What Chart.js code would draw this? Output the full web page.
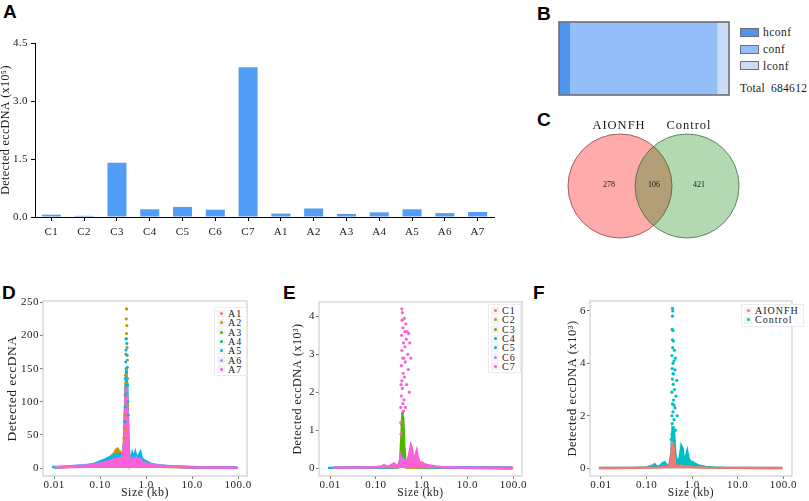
<!DOCTYPE html>
<html>
<head>
<meta charset="utf-8">
<script src="https://cdn.jsdelivr.net/npm/chart.js@4.4.1/dist/chart.umd.min.js"></script>
<style>
  body { margin: 0; width: 809px; height: 501px; position: relative; overflow: hidden; background: #fff;
         font-family: 'Liberation Serif', 'Times New Roman', serif; color: #1a1a1a; }
  .box { position: absolute; }
  .tag { position: absolute; font: bold 19px 'Liberation Sans', Arial, sans-serif; line-height: 1; color: #000; }
  .legB { position: absolute; left: 740px; top: 24px; font-size: 11.5px; letter-spacing: 0.5px; }
  .legB .r { height: 16.7px; display: flex; align-items: center; }
  .legB .sw { width: 19px; height: 9px; border: 1px solid #707070; box-sizing: border-box; margin-right: 4px; }
  .total { position: absolute; left: 740px; top: 82px; font-size: 11.5px; letter-spacing: 0.3px; white-space: nowrap; }
  .total span { margin-left: 6px; }
  .vl { position: absolute; transform: translate(-50%, -50%); white-space: nowrap; }
  .leg { position: absolute; font-size: 10px; letter-spacing: 1px; border: 1px solid #ececec; padding: 1px 4px 1px 2px; background: #fff; }
  .leg .lr { height: 9.3px; display: flex; align-items: center; }
  .leg .key { width: 8px; height: 8px; background: #f3f3f3; position: relative; margin-right: 3px; }
  .leg .key i { position: absolute; left: 2.5px; top: 2.5px; width: 3px; height: 3px; border-radius: 50%; }
</style>
</head>
<body>
<div class="tag" style="left:3px;top:2px">A</div>
<div class="tag" style="left:537px;top:4px">B</div>
<div class="tag" style="left:537px;top:110px">C</div>
<div class="tag" style="left:2px;top:283px">D</div>
<div class="tag" style="left:283px;top:283px">E</div>
<div class="tag" style="left:533px;top:283px">F</div>

<div class="box" style="left:-2px;top:0;width:507px;height:260px"><canvas id="cA"></canvas></div>
<div class="box" style="left:558px;top:21px;width:172px;height:75px"><canvas id="cB"></canvas></div>
<div class="legB" id="legB"></div>
<div class="total" id="totalB"></div>
<div class="box" style="left:560px;top:130px;width:190px;height:112px"><canvas id="cC"></canvas></div>
<div id="vennText"></div>
<div class="box" style="left:0;top:290px;width:260px;height:211px"><canvas id="cD"></canvas></div>
<div class="box" style="left:270px;top:290px;width:265px;height:211px"><canvas id="cE"></canvas></div>
<div class="box" style="left:540px;top:290px;width:269px;height:211px"><canvas id="cF"></canvas></div>
<div class="leg" id="legD" style="left:214px;top:307px"></div>
<div class="leg" id="legE" style="left:488px;top:304px"></div>
<div class="leg" id="legF" style="left:741px;top:304px"></div>

<script>
// ---- A: detected eccDNA per sample (x10^5)
const samples = ['C1', 'C2', 'C3', 'C4', 'C5', 'C6', 'C7', 'A1', 'A2', 'A3', 'A4', 'A5', 'A6', 'A7'];
const detected = [0.06, 0.03, 1.40, 0.20, 0.26, 0.19, 3.87, 0.09, 0.22, 0.08, 0.12, 0.20, 0.10, 0.13];
const ticksA = [0, 1.5, 3.0, 4.5];

// ---- B: confidence levels
const confLevels = ['hconf', 'conf', 'lconf'];
const confCounts = [43000, 593500, 48112];

// ---- C: venn
const vennNames = ['AIONFH', 'Control'];
const vennOnly = [278, 421];
const vennShared = 106;

// ---- D/E/F: size distributions, [size kb, count]
const sizeTicks = [0.01, 0.1, 1, 10, 100];
const sizeTickLabels = ['0.01', '0.10', '1.0', '10.0', '100.0'];
const ticksD = [0, 50, 100, 150, 200, 250];
const ticksE = [0, 1, 2, 3, 4];
const ticksF = [0, 2, 4, 6];

const namesD = ['A1', 'A2', 'A3', 'A4', 'A5', 'A6', 'A7'];
const curveA1 = [[0.01,1],[0.05,2],[0.1,5],[0.2,9],[0.3,12],[0.36,45],[0.4,30],[0.45,6],[0.6,9],[0.8,8],[1,5],[2,2],[10,1],[95,0.5]];
const curveA2 = [[0.012,1],[0.05,3],[0.1,8],[0.15,14],[0.2,22],[0.22,26],[0.25,27],[0.27,24],[0.3,16],[0.33,40],[0.36,130],[0.38,120],[0.41,40],[0.44,8],[0.5,14],[0.6,14],[0.8,12],[1,7],[2,3],[10,1],[95,0.5]];
const curveA3 = [[0.01,1],[0.1,4],[0.2,7],[0.3,10],[0.36,38],[0.38,40],[0.42,10],[0.6,8],[1,4],[2,2],[10,1],[95,0.5]];
const curveA4 = [[0.01,1],[0.1,4],[0.2,8],[0.3,9],[0.36,30],[0.38,28],[0.42,7],[0.6,7],[1,4],[2,3],[10,1],[95,0.5]];
const curveA5 = [[0.009,1.5],[0.02,2],[0.03,3],[0.05,4],[0.08,7],[0.1,10],[0.13,13],[0.16,16],[0.2,19],[0.25,22],[0.28,20],[0.31,16],[0.33,30],[0.35,80],[0.37,150],[0.39,120],[0.41,50],[0.43,15],[0.46,10],[0.5,22],[0.53,16],[0.58,24],[0.62,15],[0.68,18],[0.75,24],[0.8,15],[0.9,12],[1,10],[1.3,6],[2,4],[4,2.5],[10,1.5],[30,1],[95,1]];
const curveA6 = [[0.01,1],[0.1,6],[0.2,12],[0.3,14],[0.36,60],[0.38,55],[0.42,12],[0.6,12],[1,6],[2,3],[10,1],[95,0.5]];
const curveA7 = [[0.012,1],[0.02,1.5],[0.03,2],[0.05,3],[0.08,5],[0.1,7],[0.13,9],[0.17,11],[0.2,13],[0.25,15],[0.28,14],[0.3,10],[0.33,30],[0.345,75],[0.36,118],[0.38,120],[0.4,80],[0.42,25],[0.44,4],[0.47,8],[0.5,15],[0.55,12],[0.6,16],[0.66,12],[0.72,14],[0.8,10],[0.9,8],[1,7],[1.3,5],[1.7,4],[2.5,3],[4,2],[7,1.5],[10,1],[20,0.8],[50,0.5],[95,0.5]];
const peakA1 = [[0.37,60],[0.38,55]];
const peakA2 = [[0.375,240],[0.37,225],[0.38,215],[0.375,203],[0.365,195],[0.385,182],[0.36,172],[0.39,163],[0.37,150],[0.355,140],[0.395,135],[0.38,128],[0.35,110],[0.4,95],[0.345,80],[0.34,60],[0.33,45],[0.24,29],[0.22,27],[0.26,25]];
const peakA5 = [[0.37,195],[0.38,188],[0.365,178],[0.385,170],[0.36,160],[0.39,152],[0.375,145],[0.355,135],[0.395,125],[0.365,112],[0.4,100],[0.35,92],[0.41,80],[0.345,70]];

const namesE = ['C1', 'C2', 'C3', 'C4', 'C5', 'C6', 'C7'];
const curveC1 = [[0.012,0.005],[0.3,0.01],[0.37,0.04],[0.4,0.03],[0.5,0.01],[95,0.003]];
const curveC2 = [[0.012,0.005],[0.3,0.01],[0.37,0.06],[0.4,0.05],[0.5,0.01],[95,0.003]];
const curveC3 = [[0.012,0.005],[0.1,0.01],[0.3,0.03],[0.34,0.2],[0.36,0.8],[0.38,1.45],[0.4,1.2],[0.42,0.5],[0.45,0.1],[0.55,0.15],[0.6,0.2],[0.66,0.08],[0.75,0.15],[0.8,0.2],[0.9,0.06],[1,0.05],[2,0.02],[10,0.005],[95,0.003]];
const curveC4 = [[0.012,0.005],[0.3,0.02],[0.37,0.15],[0.4,0.12],[0.45,0.03],[0.6,0.04],[1,0.02],[95,0.003]];
const curveC5 = [[0.009,0.005],[0.3,0.03],[0.35,0.15],[0.37,0.3],[0.4,0.25],[0.43,0.06],[0.6,0.06],[0.8,0.05],[1,0.03],[95,0.003]];
const curveC6 = [[0.012,0.005],[0.3,0.03],[0.36,0.12],[0.38,0.25],[0.4,0.2],[0.43,0.05],[0.6,0.05],[1,0.03],[95,0.003]];
const curveC7 = [[0.012,0.01],[0.05,0.01],[0.1,0.02],[0.14,0.05],[0.15,0.08],[0.17,0.04],[0.2,0.05],[0.23,0.1],[0.25,0.12],[0.28,0.06],[0.32,0.1],[0.35,0.3],[0.37,0.1],[0.43,0.2],[0.47,0.15],[0.52,0.3],[0.58,0.6],[0.62,0.5],[0.67,0.15],[0.72,0.3],[0.78,0.45],[0.82,0.3],[0.9,0.15],[1,0.15],[1.1,0.12],[1.3,0.08],[1.6,0.06],[2,0.04],[3,0.02],[5,0.01],[10,0.005],[100,0.003]];
const peakC3 = [[0.38,1.45],[0.39,1.3],[0.37,1.15],[0.4,1.0],[0.37,0.9],[0.39,0.75],[0.36,0.65],[0.41,0.5]];
const peakC7 = [[0.37,4.2],[0.38,4.1],[0.375,3.9],[0.39,3.7],[0.365,3.5],[0.4,3.3],[0.37,3.1],[0.385,2.9],[0.36,2.7],[0.395,2.5],[0.37,2.3],[0.38,2.1],[0.36,1.9],[0.39,1.7],[0.42,3.95],[0.45,3.8],[0.48,3.6],[0.52,3.55],[0.46,3.4],[0.55,3.3],[0.43,3.2],[0.5,3.0],[0.58,2.9],[0.44,2.8],[0.51,2.6],[0.42,2.4],[0.47,2.2],[0.54,2.0],[0.41,1.8],[0.44,1.6],[0.355,2.2],[0.35,1.6],[0.35,1.2],[0.355,0.9],[0.4,1.5],[0.41,2.9],[0.43,3.6]];

const namesF = ['AIONFH', 'Control'];
const curveAIONFH = [[0.009,0.005],[0.05,0.01],[0.1,0.02],[0.2,0.03],[0.3,0.06],[0.33,0.15],[0.35,0.45],[0.365,0.95],[0.38,0.9],[0.4,0.55],[0.42,0.2],[0.45,0.06],[0.5,0.08],[0.6,0.1],[0.7,0.05],[0.8,0.07],[1,0.04],[2,0.02],[10,0.01],[95,0.005]];
const curveControl = [[0.009,0.005],[0.05,0.01],[0.1,0.03],[0.14,0.1],[0.15,0.15],[0.17,0.05],[0.2,0.1],[0.23,0.2],[0.25,0.22],[0.28,0.1],[0.32,0.15],[0.35,0.6],[0.37,1.5],[0.4,1.4],[0.43,0.5],[0.48,0.2],[0.53,0.4],[0.58,0.85],[0.62,0.75],[0.67,0.2],[0.72,0.4],[0.78,0.65],[0.83,0.4],[0.9,0.25],[1,0.25],[1.1,0.2],[1.3,0.12],[1.6,0.08],[2,0.05],[3,0.03],[5,0.015],[10,0.01],[50,0.005],[95,0.005]];
const peakAIONFH = [[0.37,0.95],[0.375,0.85],[0.36,0.75],[0.38,0.7],[0.39,0.6]];
const peakControl = [[0.37,6.1],[0.375,6.0],[0.37,5.8],[0.365,5.3],[0.38,5.25],[0.37,4.9],[0.39,4.85],[0.375,4.6],[0.41,4.5],[0.36,4.3],[0.43,4.2],[0.38,4.0],[0.365,3.8],[0.42,3.75],[0.39,3.6],[0.37,3.4],[0.46,3.35],[0.385,3.2],[0.41,3.0],[0.36,2.9],[0.44,2.75],[0.39,2.6],[0.37,2.45],[0.42,2.3],[0.38,2.15],[0.36,2.0],[0.47,2.0],[0.4,1.85],[0.365,1.7],[0.39,1.55],[0.43,1.45],[0.36,1.3],[0.35,1.1],[0.4,2.4],[0.38,3.6],[0.4,4.1]];

// ---- styles
const hue7 = ['#F8766D', '#C49A00', '#53B400', '#00C094', '#00B6EB', '#A58AFF', '#FB61D7'];
const hue2 = ['#F8766D', '#00BFC4'];
const confColors = ['#4D95F0', '#93BEF7', '#C9DDF8'];
const serif = "'Liberation Serif', 'Times New Roman', serif";

Chart.defaults.font.family = serif;
Chart.defaults.color = '#1a1a1a';
Chart.defaults.animation = false;
Chart.defaults.events = [];
Chart.defaults.maintainAspectRatio = false;
Chart.defaults.plugins.legend.display = false;
Chart.defaults.plugins.tooltip.enabled = false;

// panel frame + letter spacing
const frame = {
  id: 'frame',
  beforeDraw(chart, args, opts) {
    chart.ctx.letterSpacing = opts.ls || '0px';
  },
  afterDraw(chart, args, opts) {
    if (!opts.color) return;
    const {ctx, chartArea: a} = chart;
    ctx.save();
    ctx.strokeStyle = opts.color;
    ctx.lineWidth = opts.width || 1;
    ctx.strokeRect(a.left, a.top, a.right - a.left, a.bottom - a.top);
    ctx.restore();
  }
};

const xy = arr => arr.map(p => ({x: p[0], y: p[1]}));

// ---------- A
new Chart(document.getElementById('cA'), {
  type: 'bar',
  data: {
    labels: samples,
    datasets: [{data: detected, backgroundColor: '#529DF6', barPercentage: 0.58, categoryPercentage: 1}]
  },
  plugins: [frame],
  options: {
    layout: {padding: {top: 43, right: 11}},
    plugins: {frame: {ls: '0.4px'}},
    scales: {
      x: {
        grid: {drawOnChartArea: false, offset: false, tickLength: 4, color: '#000'},
        border: {color: '#000'},
        ticks: {font: {size: 11}, color: '#1a1a1a', padding: 5},
        afterFit: s => { s.height = 43; }
      },
      y: {
        min: 0, max: 4.5, bounds: 'data',
        afterBuildTicks: s => { s.ticks = ticksA.map(v => ({value: v})); },
        ticks: {font: {size: 11}, color: '#1a1a1a', padding: 3, callback: v => v.toFixed(1)},
        grid: {drawOnChartArea: false, tickLength: 4, color: '#000'},
        border: {color: '#000'},
        title: {display: true, text: 'Detected eccDNA (x10\u2075)', font: {size: 12}, padding: {top: 1, bottom: 0}, color: '#1a1a1a'},
        afterFit: s => { s.width = 37; }
      }
    }
  }
});

// ---------- B
const total = confCounts.reduce((a, b) => a + b, 0);
new Chart(document.getElementById('cB'), {
  type: 'bar',
  data: {
    labels: ['all'],
    datasets: confLevels.map((name, i) => ({
      label: name, data: [confCounts[i]], backgroundColor: confColors[i],
      barPercentage: 1, categoryPercentage: 1, stack: 's'
    }))
  },
  plugins: [frame],
  options: {
    indexAxis: 'y',
    layout: {padding: 1},
    plugins: {frame: {color: '#6e6e6e', width: 1.6}},
    scales: {
      x: {display: false, stacked: true, min: 0, max: total},
      y: {display: false, stacked: true}
    }
  }
});
document.getElementById('legB').innerHTML = confLevels.map((n, i) =>
  `<div class="r"><span class="sw" style="background:${confColors[i]}"></span>${n}</div>`).join('');
document.getElementById('totalB').innerHTML = 'Total<span>' + total + '</span>';

// ---------- C (venn drawn as two bubbles)
const vennR = 52;      // circle radius, px
const vennGap = 1.29;  // centre distance in radii
new Chart(document.getElementById('cC'), {
  type: 'bubble',
  data: {
    datasets: [{
      data: [{x: 0, y: 0}, {x: vennGap, y: 0}],
      backgroundColor: ['rgba(255,0,0,0.33)', 'rgba(0,128,0,0.3)'],
      borderColor: ['rgba(130,60,60,0.75)', 'rgba(60,100,60,0.75)'],
      borderWidth: 1,
      radius: vennR,
      clip: false
    }]
  },
  options: {
    layout: {padding: 0, autoPadding: false},
    scales: {
      x: {display: false, min: -1.154, max: 2.5},
      y: {display: false, min: -1.077, max: 1.077}
    }
  }
});
const vt = [
  [vennNames[0], 619, 125, 12.5], [vennNames[1], 689, 125, 12.5],
  [vennOnly[0], 609, 184, 8], [vennShared, 654, 184, 8], [vennOnly[1], 699, 184, 8]
];
document.getElementById('vennText').innerHTML = vt.map(t =>
  `<div class="vl" style="left:${t[1]}px;top:${t[2]}px;font-size:${t[3]}px;letter-spacing:${t[3] > 10 ? 1 : 0}px">${t[0]}</div>`).join('');

// ---------- D/E/F
function sizeChart(id, s) {
  const n = s.curves.length;
  const datasets = [];
  s.curves.forEach((c, i) => {
    const rank = s.topFirst ? i : n - 1 - i;
    datasets.push({data: xy(c), borderColor: s.colors[i], backgroundColor: s.colors[i], borderWidth: 2.4,
      pointRadius: 0, fill: 'origin', order: 20 + rank});
    if (s.peaks[i]) datasets.push({data: xy(s.peaks[i]), showLine: false, pointRadius: 1.6,
      pointBackgroundColor: s.colors[i], pointBorderWidth: 0, order: rank});
  });
  return new Chart(document.getElementById(id), {
    type: 'line',
    data: {datasets},
    plugins: [frame],
    options: {
      layout: {padding: {top: s.pt, right: s.pr}},
      plugins: {frame: {color: '#cfcfcf', width: 1.2, ls: '0.5px'}},
      scales: {
        x: {
          type: 'logarithmic', min: 0.00575, max: 155, bounds: 'data',
          afterBuildTicks: sc => { sc.ticks = sizeTicks.map(v => ({value: v})); },
          afterFit: sc => { sc.height = 25; },
          ticks: {callback: (v, i) => sizeTickLabels[i], font: {size: 11}, color: '#222', padding: 0, maxRotation: 0, autoSkip: false},
          grid: {drawOnChartArea: false, tickLength: 3, color: '#777'},
          border: {display: false},
          title: {display: true, text: 'Size (kb)', font: {size: s.xtf}, padding: {top: 0, bottom: s.xtp}, color: '#222'}
        },
        y: {
          min: s.ymin, max: s.ymax, bounds: 'data',
          afterBuildTicks: sc => { sc.ticks = s.yticks.map(v => ({value: v})); },
          afterFit: sc => { sc.width = s.yw; },
          ticks: {font: {size: 11}, color: '#222', padding: 1},
          grid: {drawOnChartArea: false, tickLength: 3, color: '#777'},
          border: {display: false},
          title: {display: true, text: s.ytitle, font: {size: s.ytf}, padding: {top: s.ytp, bottom: 0}, color: '#222'}
        }
      }
    }
  });
}

sizeChart('cD', {
  curves: [curveA1, curveA2, curveA3, curveA4, curveA5, curveA6, curveA7],
  peaks: [peakA1, peakA2, null, null, peakA5, null, null],
  colors: hue7, topFirst: false,
  ymin: -12, ymax: 252, yticks: ticksD, ytitle: 'Detected eccDNA',
  yw: 43, pt: 11, pr: 13, ytf: 13.5, ytp: 4.8, xtf: 12, xtp: 0.8
});
sizeChart('cE', {
  curves: [curveC1, curveC2, curveC3, curveC4, curveC5, curveC6, curveC7],
  peaks: [null, null, peakC3, null, null, null, peakC7],
  colors: hue7, topFirst: false,
  ymin: -0.21, ymax: 4.38, yticks: ticksE, ytitle: 'Detected eccDNA (x10\u00b3)',
  yw: 49, pt: 12, pr: 13, ytf: 12, ytp: 20.8, xtf: 11.5, xtp: 1.1
});
sizeChart('cF', {
  curves: [curveAIONFH, curveControl],
  peaks: [peakAIONFH, peakControl],
  colors: hue2, topFirst: true,
  ymin: -0.3, ymax: 6.38, yticks: ticksF, ytitle: 'Detected eccDNA (x10\u00b3)',
  yw: 50, pt: 11, pr: 17, ytf: 12.5, ytp: 25.5, xtf: 11.5, xtp: 1.1
});

function htmlLegend(id, names, colors) {
  document.getElementById(id).innerHTML = names.map((n, i) =>
    `<div class="lr"><span class="key"><i style="background:${colors[i]}"></i></span>${n}</div>`).join('');
}
htmlLegend('legD', namesD, hue7);
htmlLegend('legE', namesE, hue7);
htmlLegend('legF', namesF, hue2);
</script>
</body>
</html>
